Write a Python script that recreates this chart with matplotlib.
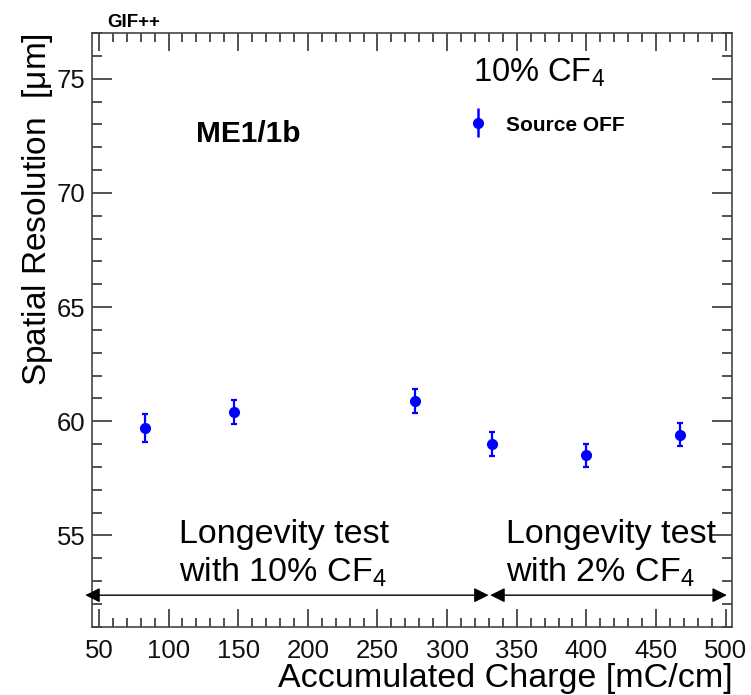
import numpy as np
import matplotlib
matplotlib.use('Agg')
import matplotlib.pyplot as plt
from matplotlib.ticker import MultipleLocator

plt.rcParams['font.family'] = ['Liberation Sans', 'DejaVu Sans']
plt.rcParams['mathtext.fontset'] = 'custom'
plt.rcParams['mathtext.rm'] = 'Liberation Sans'
plt.rcParams['mathtext.it'] = 'Liberation Sans'

# data
charge = [83, 147, 277, 332, 400, 467]
resolution = [59.7, 60.4, 60.9, 59.0, 58.5, 59.4]
res_err = [0.62, 0.52, 0.52, 0.51, 0.5, 0.5]

fig = plt.figure(figsize=(7.51, 6.95), dpi=100)
ax = fig.add_axes([0.1221, 0.0983, 0.853, 0.8542])

blue = '#0000ff'
ax.errorbar(charge, resolution, yerr=res_err, fmt='o', color=blue,
            markersize=7, elinewidth=1.6, capsize=2.2, capthick=1.6)

ax.set_xlim(44.8, 504.8)
ax.set_ylim(51, 77)
ax.xaxis.set_major_locator(MultipleLocator(50))
ax.xaxis.set_minor_locator(MultipleLocator(10))
ax.yaxis.set_major_locator(MultipleLocator(5))
ax.yaxis.set_minor_locator(MultipleLocator(1))
ax.tick_params(which='both', direction='in', top=True, right=True, colors='#333333',
               labelcolor='#111111', labelsize=18.5, width=1.2)
ax.tick_params(axis='x', which='major', length=13.2, pad=8.6)
ax.tick_params(axis='x', which='minor', length=6.7)
ax.tick_params(axis='y', which='major', length=14.4, pad=4.5)
ax.tick_params(axis='y', which='minor', length=7.2)
for s in ax.spines.values():
    s.set_color('#444444')
    s.set_linewidth(1.2)

ax.set_xlabel('Accumulated Charge [mC/cm]', fontsize=24.5, loc='right')
ax.xaxis.set_label_coords(1.0, -0.101)
ax.xaxis.label.set_va('baseline')
ax.set_ylabel(r'Spatial Resolution  [$\mu$m]', fontsize=24, loc='top')
ax.yaxis.set_label_coords(-0.058, 1.0)

# annotations
fig.text(0.1425, 0.9616, 'GIF++', fontsize=13.5, fontweight='bold', va='baseline')
ax.text(119.5, 72.22, 'ME1/1b', fontsize=21.5, fontweight='bold', ha='left', va='baseline')
ax.text(318.8, 74.88, r'10% CF$_4$', fontsize=23.5, ha='left', va='baseline')
ax.errorbar([322.4], [73.08], yerr=[0.63], fmt='o', color=blue, markersize=7, elinewidth=1.8)
ax.text(342.5, 72.72, 'Source OFF', fontsize=15, fontweight='bold', ha='left', va='baseline')

ax.text(107.4, 54.68, 'Longevity test', fontsize=24.5, ha='left', va='baseline')
ax.text(107.4, 52.96, 'with 10% CF$_4$', fontsize=24.5, ha='left', va='baseline')
ax.text(342.6, 54.68, 'Longevity test', fontsize=24.5, ha='left', va='baseline')
ax.text(342.6, 52.96, 'with 2% CF$_4$', fontsize=24.5, ha='left', va='baseline')

arrow_y = 52.38
ax.annotate('', xy=(40.2, arrow_y), xytext=(329.8, arrow_y), annotation_clip=False,
            arrowprops=dict(arrowstyle='<|-|>', color='black', lw=1, mutation_scale=22,
                            shrinkA=0, shrinkB=0))
ax.annotate('', xy=(331, arrow_y), xytext=(500.9, arrow_y), annotation_clip=False,
            arrowprops=dict(arrowstyle='<|-|>', color='black', lw=1, mutation_scale=22,
                            shrinkA=0, shrinkB=0))

fig.savefig('out.png', dpi=100)
